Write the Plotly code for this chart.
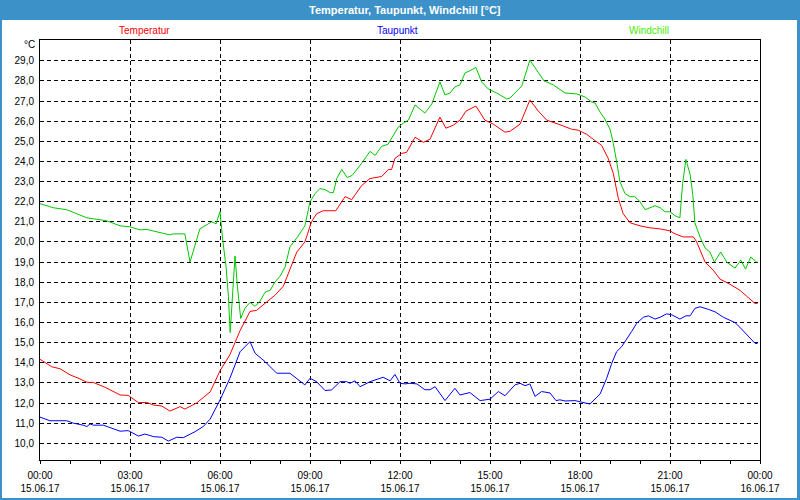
import pandas as pd
import plotly.graph_objects as go

# ---------------- data (hours after 15.06.17 00:00, °C) ----------------
temp_h = [0.0, 0.39, 0.67, 1.0, 1.33, 1.56, 1.78, 2.17, 2.67, 2.94, 3.28, 3.56, 3.78, 4.06, 4.33, 4.67,
          4.83, 5.06, 5.22, 5.44, 5.67, 5.83, 6.0, 6.33, 6.67, 7.0, 7.22, 7.5, 7.83, 8.11, 8.33, 8.56,
          8.83, 9.05, 9.22, 9.44, 9.86, 10.17, 10.39, 10.72, 11.0, 11.39, 11.61, 11.72, 11.83, 12.06,
          12.22, 12.5, 12.78, 13.0, 13.33, 13.53, 13.78, 14.0, 14.2, 14.53, 14.83, 15.11, 15.5, 15.67,
          16.0, 16.33, 16.61, 16.89, 17.28, 17.72, 17.94, 18.22, 18.44, 18.72, 18.94, 19.11, 19.28,
          19.44, 19.67, 20.0, 20.33, 20.67, 21.0, 21.17, 21.44, 21.78, 21.89, 22.17, 22.44, 22.67,
          23.0, 23.33, 23.56, 23.83, 23.92]
temp_v = [14.17, 13.8, 13.7, 13.4, 13.2, 13.03, 13.02, 12.78, 12.4, 12.38, 12.02, 12.03, 11.9, 11.85,
          11.6, 11.82, 11.7, 11.9, 12.0, 12.27, 12.55, 13.05, 13.6, 14.4, 15.6, 16.55, 16.6, 16.95,
          17.35, 17.8, 18.6, 19.5, 20.0, 21.0, 21.4, 21.55, 21.55, 22.25, 22.1, 22.8, 23.15, 23.25,
          23.6, 23.6, 24.15, 24.4, 24.45, 25.2, 24.95, 25.1, 26.2, 25.65, 25.8, 26.05, 26.5, 26.75,
          26.05, 25.85, 25.45, 25.5, 25.85, 27.05, 26.5, 26.05, 25.85, 25.6, 25.55, 25.35, 25.1,
          24.8, 24.15, 23.4, 22.15, 21.4, 20.95, 20.8, 20.7, 20.65, 20.55, 20.4, 20.25, 20.25, 20.0,
          19.0, 18.6, 18.15, 17.9, 17.6, 17.3, 16.95, 16.95]

dew_h = [0.0, 0.33, 0.89, 1.11, 1.44, 1.56, 1.67, 1.78, 2.11, 2.39, 2.67, 2.94, 3.28, 3.5, 3.78, 4.06,
         4.28, 4.56, 4.78, 5.17, 5.44, 5.67, 5.83, 6.0, 6.33, 6.67, 7.0, 7.17, 7.5, 7.89, 8.33, 8.67,
         8.83, 9.0, 9.22, 9.5, 9.72, 10.0, 10.22, 10.33, 10.5, 10.67, 11.0, 11.44, 11.67, 11.83, 12.0,
         12.17, 12.33, 12.56, 12.83, 13.0, 13.17, 13.5, 13.83, 14.0, 14.33, 14.67, 14.83, 15.0, 15.28,
         15.5, 15.83, 16.0, 16.17, 16.33, 16.5, 16.72, 17.0, 17.2, 17.33, 17.5, 17.83, 18.06, 18.33,
         18.67, 18.89, 19.06, 19.22, 19.39, 19.56, 19.72, 19.89, 20.11, 20.28, 20.5, 20.67, 20.89,
         21.06, 21.33, 21.53, 21.67, 21.83, 22.0, 22.28, 22.5, 22.78, 23.17, 23.33, 23.56, 23.83, 23.92]
dew_v = [11.3, 11.12, 11.12, 11.0, 10.9, 10.83, 10.96, 10.9, 10.9, 10.75, 10.6, 10.63, 10.36, 10.46,
         10.33, 10.3, 10.11, 10.3, 10.28, 10.58, 10.83, 11.2, 11.65, 12.15, 13.23, 14.55, 15.05, 14.47,
         14.06, 13.48, 13.48, 13.06, 12.9, 13.23, 13.06, 12.62, 12.65, 13.06, 13.06, 12.98, 13.1, 12.81,
         13.06, 13.28, 13.1, 13.42, 12.98, 12.95, 12.98, 12.95, 12.66, 12.66, 12.81, 12.12, 12.73, 12.4,
         12.52, 12.12, 12.16, 12.19, 12.57, 12.36, 12.9, 12.98, 12.86, 12.95, 12.33, 12.57, 12.5, 12.12,
         12.16, 12.1, 12.12, 12.05, 11.95, 12.45, 13.23, 13.98, 14.55, 14.8, 15.22, 15.55, 15.96, 16.26,
         16.33, 16.17, 16.26, 16.43, 16.38, 16.17, 16.33, 16.33, 16.7, 16.78, 16.65, 16.53, 16.26, 15.99,
         15.76, 15.38, 14.97, 14.95]

wind_h = [0.0, 0.44, 0.89, 1.56, 2.22, 2.67, 3.0, 3.33, 3.56, 4.22, 4.33, 4.44, 4.83, 5.0, 5.33, 5.72,
          5.87, 6.0, 6.09, 6.2, 6.28, 6.34, 6.44, 6.5, 6.58, 6.69, 6.83, 7.0, 7.17, 7.33, 7.5, 7.67,
          7.83, 8.0, 8.17, 8.33, 8.56, 8.83, 9.0, 9.17, 9.33, 9.5, 9.67, 9.78, 9.89, 10.06, 10.24, 10.4,
          10.72, 11.0, 11.17, 11.39, 11.6, 11.78, 11.94, 12.11, 12.28, 12.5, 12.67, 12.83, 13.06, 13.33,
          13.5, 13.67, 13.83, 14.0, 14.17, 14.33, 14.53, 14.72, 14.94, 15.22, 15.56, 15.67, 15.83, 16.06,
          16.33, 16.56, 16.8, 17.11, 17.5, 17.89, 18.0, 18.17, 18.39, 18.5, 18.67, 18.83, 19.0, 19.11,
          19.22, 19.33, 19.5, 19.67, 19.83, 20.0, 20.17, 20.5, 20.67, 20.83, 21.0, 21.17, 21.33, 21.42,
          21.53, 21.67, 21.76, 21.83, 22.0, 22.17, 22.33, 22.48, 22.69, 22.89, 23.17, 23.36, 23.52,
          23.69, 23.89, 23.92]
wind_v = [21.9, 21.7, 21.6, 21.2, 21.05, 20.8, 20.75, 20.6, 20.62, 20.4, 20.35, 20.4, 20.4, 19.0, 20.65,
          21.0, 20.9, 21.5, 20.1, 18.8, 17.3, 15.5, 18.1, 19.3, 17.8, 16.2, 16.7, 17.0, 16.8, 17.05,
          17.5, 17.6, 18.0, 18.3, 18.75, 19.75, 20.2, 20.8, 22.0, 22.4, 22.65, 22.6, 22.45, 22.45, 23.15,
          23.6, 23.2, 23.3, 23.9, 24.5, 24.3, 24.75, 24.85, 25.3, 25.7, 25.9, 26.05, 26.8, 26.6, 26.4,
          26.85, 27.95, 27.3, 27.4, 27.7, 27.8, 28.4, 28.5, 28.67, 27.95, 27.6, 27.4, 27.1, 27.15, 27.4,
          27.75, 29.03, 28.5, 28.0, 27.8, 27.4, 27.35, 27.3, 27.2, 26.95, 26.9, 26.45, 26.1, 25.6, 24.9,
          24.0, 23.0, 22.4, 22.25, 22.25, 22.0, 21.6, 21.8, 21.7, 21.5, 21.5, 21.3, 21.2, 22.9, 24.1,
          23.35, 22.35, 20.95, 20.25, 19.7, 19.5, 19.0, 19.5, 19.0, 18.7, 19.1, 18.65, 19.25, 19.0, 19.0]

y_ticks = list(range(10, 30))
y_labels = [f"{v},0" for v in y_ticks]
x_tick_hours = [0, 3, 6, 9, 12, 15, 18, 21, 24]

series_names = ["Temperatur", "Taupunkt", "Windchill"]
line_colors = ["#ff0000", "#0000ff", "#00c800"]
label_colors = ["#ff0000", "#0000ff", "#44ee00"]

base = pd.Timestamp("2017-06-15 00:00")
def to_time(hours):
    return [base + pd.Timedelta(hours=h) for h in hours]

# ---------------- figure ----------------
W, H = 800, 500
L, R, T, B = 40, 40, 40, 40
pw, ph = W - L - R, H - T - B
def px(x):
    return (x - L) / pw
def py(y):
    return (H - B - y) / ph

fig = go.Figure()
for name, hs, vs, col in zip(series_names, [temp_h, dew_h, wind_h], [temp_v, dew_v, wind_v], line_colors):
    fig.add_trace(go.Scatter(x=to_time(hs), y=vs, mode="lines", name=name,
                             line=dict(color=col, width=1), showlegend=False))

tick_times = to_time(x_tick_hours)
tick_text = [t.strftime("%H:%M") + "<br>" + t.strftime("%d.%m.%y") for t in tick_times]

font_main = "Liberation Sans, Arial, sans-serif"

fig.update_layout(
    width=W, height=H,
    margin=dict(l=L, r=R, t=T, b=B, autoexpand=False),
    paper_bgcolor="white", plot_bgcolor="white",
    font=dict(family=font_main, size=10, color="black"),
    xaxis=dict(
        type="date",
        range=[tick_times[0], tick_times[-1]],
        tickmode="array", tickvals=tick_times, ticktext=tick_text,
        ticks="outside", ticklen=3, tickcolor="black",
        showgrid=True, gridcolor="black", gridwidth=1, griddash="4px,3px",
        showline=True, linecolor="black", linewidth=1, mirror=True,
        zeroline=False,
        minor=dict(tickmode="array", tickvals=to_time(list(range(25))), ticks="outside",
                   ticklen=3, tickcolor="black", showgrid=False),
        ticklabelstandoff=3,
        tickfont=dict(size=10),
    ),
    yaxis=dict(
        range=[9.17, 30.03],
        tickmode="array", tickvals=y_ticks, ticktext=y_labels,
        ticks="", showgrid=True, gridcolor="black", gridwidth=1, griddash="4px,3px",
        showline=True, linecolor="black", linewidth=1, mirror=True,
        zeroline=False, ticklabelstandoff=3,
        tickfont=dict(size=10),
    ),
)

blue = "#3c91c8"
shapes = [
    dict(type="rect", xref="paper", yref="paper", x0=px(0), x1=px(W), y0=py(20), y1=py(0),
         fillcolor=blue, line=dict(width=0), layer="above"),
    dict(type="rect", xref="paper", yref="paper", x0=px(0), x1=px(2), y0=py(H), y1=py(0),
         fillcolor=blue, line=dict(width=0), layer="above"),
    dict(type="rect", xref="paper", yref="paper", x0=px(797), x1=px(W), y0=py(H), y1=py(0),
         fillcolor=blue, line=dict(width=0), layer="above"),
    dict(type="rect", xref="paper", yref="paper", x0=px(0), x1=px(W), y0=py(H), y1=py(498),
         fillcolor=blue, line=dict(width=0), layer="above"),
]
fig.update_layout(shapes=shapes)

ann = [
    dict(text="<b>Temperatur, Taupunkt, Windchill [°C]</b>", x=px(405), y=py(10),
         font=dict(color="white", size=11, family=font_main)),
    dict(text="°C", x=px(37), y=py(45), xanchor="right", font=dict(size=10, color="black")),
]
for name, col, cx in zip(series_names, label_colors, [144, 397, 649]):
    ann.append(dict(text=name, x=px(cx), y=py(30), font=dict(color=col, size=10)))
for a in ann:
    a.setdefault("xanchor", "center")
    a.update(xref="paper", yref="paper", yanchor="middle", showarrow=False)
fig.update_layout(annotations=ann)

fig.write_html("out.html")
